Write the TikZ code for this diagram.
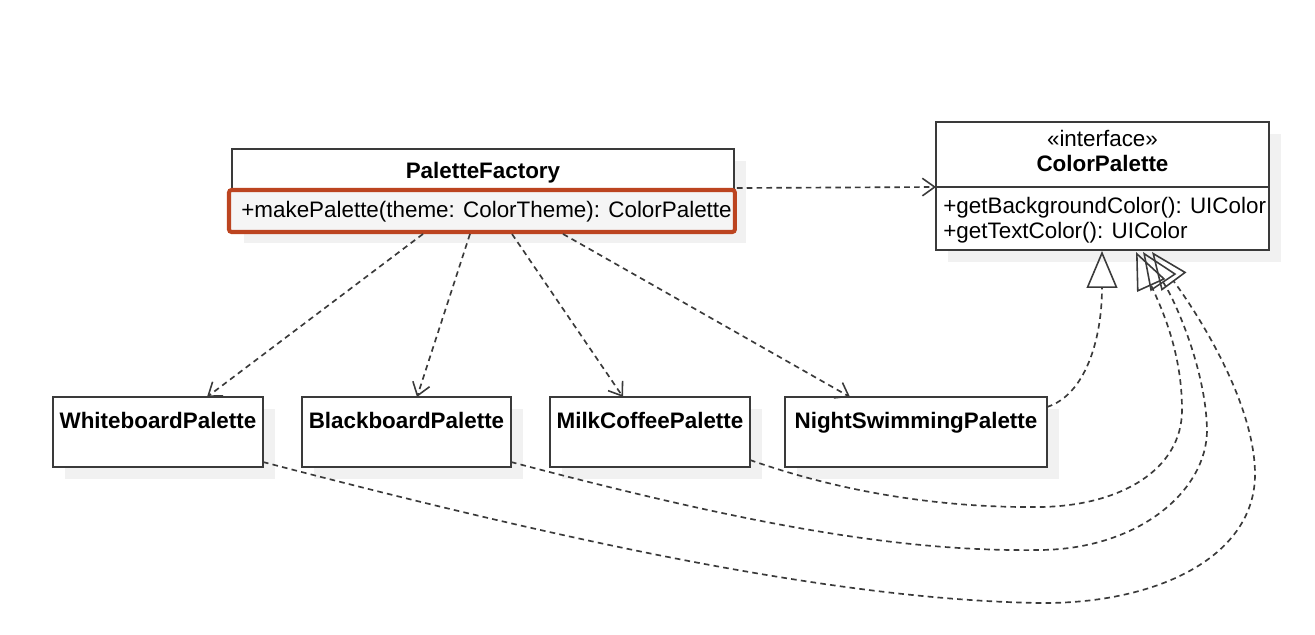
\documentclass[tikz,border=0pt]{standalone}
\usepackage{fontspec}
\setmainfont{Liberation Sans}
\usetikzlibrary{arrows.meta,calc,shadows}

\definecolor{umlline}{HTML}{3A3A3A}
\definecolor{umlred}{HTML}{BC4420}
\definecolor{umlshade}{HTML}{F1F1F1}

\begin{document}
\begin{tikzpicture}[
    x=0.02cm, y=-0.02cm,
    font=\fontsize{12.75}{15.3}\selectfont,
    % Styles
    class_box/.style={draw=umlline, fill=white, line width=0.85pt, inner sep=0pt, outer sep=0pt, anchor=north west,
        drop shadow={shadow xshift=0.24cm, shadow yshift=-0.24cm, fill=umlshade, opacity=1}},
    ops_box/.style={draw=umlred, fill=black!4, line width=2.3pt, rounded corners=1.5pt, inner sep=0pt, outer sep=0pt, anchor=north west},
    class_name/.style={font=\fontsize{12.75}{15.3}\selectfont\bfseries, inner sep=0pt, anchor=base},
    member_text/.style={inner sep=0pt, anchor=base west},
    dep_edge/.style={umlline, line width=0.95pt, dash pattern=on 3.2pt off 2.4pt,
        -{Straight Barb[length=7pt, width=10pt, line width=0.9pt]}},
    real_edge/.style={umlline, line width=0.95pt, dash pattern=on 3.2pt off 2.4pt,
        -{Triangle[open, length=21pt, width=17.5pt, line width=0.9pt]}}
]

    \useasboundingbox (0,0) rectangle (1315,635);

    % ==========================================
    % 1. CLASSES
    % ==========================================
    % Factory
    \node[class_box, minimum width=10.04cm, minimum height=1.64cm] (factory) at (232,149) {};
    \node[ops_box, minimum width=10.12cm, minimum height=0.84cm] (factoryops) at (229,190) {};
    \node[class_name] (factoryname) at ($(factory.north)+(0,29)$) {PaletteFactory};
    \node[member_text] (makepalette) at ($(factoryops.north west)+(12,27)$) {+makePalette(theme: ColorTheme): ColorPalette};

    % Interface
    \node[class_box, minimum width=6.66cm, minimum height=2.56cm] (palette) at (936,122) {};
    \draw[umlline, line width=0.85pt] ($(palette.north west)+(0,65)$) -- ($(palette.north east)+(0,65)$);
    \node[inner sep=0pt, anchor=base] (stereotype) at ($(palette.north)+(0,25)$) {«interface»};
    \node[class_name] (palettename) at ($(palette.north)+(0,50)$) {ColorPalette};
    \node[member_text] (getbg) at ($(palette.north west)+(7,91)$) {+getBackgroundColor(): UIColor};
    \node[member_text] (gettext) at ($(palette.north west)+(7,116)$) {+getTextColor(): UIColor};

    % Concrete palettes
    \node[class_box, minimum width=4.2cm, minimum height=1.4cm] (white) at (53,397) {};
    \node[class_box, minimum width=4.18cm, minimum height=1.4cm] (black) at (302,397) {};
    \node[class_box, minimum width=4.0cm, minimum height=1.4cm] (milk) at (550,397) {};
    \node[class_box, minimum width=5.24cm, minimum height=1.4cm] (night) at (785,397) {};

    \node[class_name] (whitename) at ($(white.north)+(0,31)$) {WhiteboardPalette};
    \node[class_name] (blackname) at ($(black.north)+(0,31)$) {BlackboardPalette};
    \node[class_name] (milkname) at ($(milk.north)+(0,31)$) {MilkCoffeePalette};
    \node[class_name] (nightname) at ($(night.north)+(0,31)$) {NightSwimmingPalette};

    % ==========================================
    % 2. DEPENDENCIES (factory creates)
    % ==========================================
    \draw[dep_edge] ($(factory.north east)+(3,39)$) -- ($(palette.north west)+(0,65)$);
    \draw[dep_edge] ($(factory.south west)+(191,3)$) -- ($(white.north west)+(154,0)$);
    \draw[dep_edge] ($(factory.south west)+(238,3)$) -- ($(black.north west)+(115,0)$);
    \draw[dep_edge] ($(factory.south west)+(280,3)$) -- ($(milk.north west)+(73,0)$);
    \draw[dep_edge] ($(factory.south west)+(331,3)$) -- ($(night.north west)+(65,0)$);

    % ==========================================
    % 3. REALIZATIONS (implements interface)
    % ==========================================
    \draw[real_edge] ($(night.north east)+(0,10)$) .. controls (1085,395) and (1102,340) .. ($(palette.south west)+(166,1)$);
    \draw[real_edge] ($(milk.south east)+(0,-7)$) .. controls (850,495) and (950,508) .. (1040,507)
        .. controls (1120,506) and (1182,470) .. (1182,410)
        .. controls (1182,350) and (1160,305) .. ($(palette.south west)+(200,2)$);
    \draw[real_edge] ($(black.south east)+(0,-5)$) .. controls (750,525) and (900,552) .. (1040,550)
        .. controls (1140,549) and (1207,490) .. (1207,430)
        .. controls (1206,370) and (1175,300) .. ($(palette.south west)+(207,2)$);
    \draw[real_edge] ($(white.south east)+(0,-5)$) .. controls (600,550) and (850,600) .. (1040,603)
        .. controls (1160,604) and (1256,555) .. (1255,473)
        .. controls (1254,400) and (1195,310) .. ($(palette.south west)+(216,2)$);

\end{tikzpicture}
\end{document}
